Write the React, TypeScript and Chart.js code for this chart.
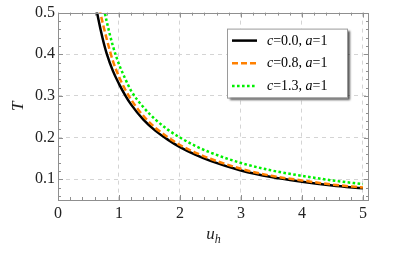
import React, { useEffect, useRef } from 'react';
import { Chart, registerables } from 'chart.js';

Chart.register(...registerables);

// ---- data ----
const uValues = [0.6, 0.65, 0.7, 0.75, 0.8, 0.9, 1.0, 1.1, 1.2, 1.4, 1.6, 1.8, 2.0, 2.25, 2.5, 3.0, 3.5, 4.0, 4.5, 5.0];
const tC00 = [0.53, 0.493, 0.458, 0.427, 0.401, 0.36, 0.329, 0.302, 0.279, 0.243, 0.216, 0.195, 0.177, 0.159, 0.144, 0.121, 0.105, 0.094, 0.085, 0.078];
const tC08 = [0.575, 0.535, 0.496, 0.465, 0.436, 0.384, 0.346, 0.316, 0.291, 0.252, 0.223, 0.201, 0.182, 0.164, 0.149, 0.125, 0.108, 0.097, 0.087, 0.08];
const tC13 = [0.64, 0.595, 0.553, 0.512, 0.478, 0.42, 0.376, 0.342, 0.312, 0.273, 0.243, 0.219, 0.2, 0.18, 0.164, 0.139, 0.121, 0.108, 0.097, 0.088];
const cLabels = ['0.0', '0.8', '1.3'];
const aLabels = ['1', '1', '1'];
const xTicks = [0, 1, 2, 3, 4, 5];
const yTicks = [0.1, 0.2, 0.3, 0.4, 0.5];
const xTitle = ['u', 'h'];
const yTitle = 'T';

const SERIF = '"Liberation Serif", "Times New Roman", serif';
const colors = ['#000000', '#ff8000', '#00f000'];
const dashes: number[][] = [[], [6, 3], [2.6, 2.4]];

const framePlugin = {
  id: 'mmaFrame',
  afterDatasetsDraw(chart: any) {
    const { ctx, chartArea: a, scales } = chart;
    const x = scales.x, y = scales.y;
    ctx.save();
    ctx.strokeStyle = '#8f8f8f';
    ctx.lineWidth = 1;
    ctx.setLineDash([]);
    ctx.beginPath();
    for (let i = 0; i <= 25; i++) {
      const v = i * 0.2;
      const px = Math.round(x.getPixelForValue(v)) + 0.5;
      const len = i % 5 === 0 ? 5 : 3;
      ctx.moveTo(px, a.bottom); ctx.lineTo(px, a.bottom - len);
      ctx.moveTo(px, a.top); ctx.lineTo(px, a.top + len);
    }
    for (let i = 3; i <= 25; i++) {
      const v = i * 0.02;
      const py = Math.round(y.getPixelForValue(v)) + 0.5;
      const len = i % 5 === 0 ? 5 : 3;
      ctx.moveTo(a.left, py); ctx.lineTo(a.left + len, py);
      ctx.moveTo(a.right, py); ctx.lineTo(a.right - len, py);
    }
    ctx.stroke();
    ctx.strokeRect(Math.round(a.left) + 0.5, Math.round(a.top) + 0.5, Math.round(a.right - a.left) - 1, Math.round(a.bottom - a.top));
    ctx.restore();
  },
  afterDraw(chart: any) {
    const { ctx, chartArea: a } = chart;
    ctx.save();
    ctx.fillStyle = '#222';
    ctx.textBaseline = 'alphabetic';
    ctx.font = `italic 17px ${SERIF}`;
    const uw = ctx.measureText(xTitle[0]).width;
    ctx.font = `italic 12px ${SERIF}`;
    const hw = ctx.measureText(xTitle[1]).width;
    const cx = (a.left + a.right) / 2 - (uw + hw) / 2;
    ctx.font = `italic 17px ${SERIF}`;
    ctx.fillText(xTitle[0], cx, a.bottom + 39);
    ctx.font = `italic 12px ${SERIF}`;
    ctx.fillText(xTitle[1], cx + uw, a.bottom + 43);

    ctx.save();
    ctx.translate(23, (a.top + a.bottom) / 2);
    ctx.rotate(-Math.PI / 2);
    ctx.font = `italic 17px ${SERIF}`;
    ctx.textAlign = 'center';
    ctx.fillText(yTitle, 0, 0);
    ctx.restore();

    // legend
    const bw = 120, bh = 69;
    const bx = a.right - 22 - bw, by = a.top + 16;
    ctx.save();
    ctx.shadowColor = 'rgba(0,0,0,0.65)';
    ctx.shadowOffsetX = 2.5;
    ctx.shadowOffsetY = 2.5;
    ctx.shadowBlur = 2;
    ctx.fillStyle = '#ffffff';
    ctx.fillRect(bx, by, bw, bh);
    ctx.restore();
    ctx.strokeStyle = '#9a9a9a';
    ctx.lineWidth = 1;
    ctx.strokeRect(bx + 0.5, by + 0.5, bw, bh);

    const rowH = 22.7;
    for (let i = 0; i < cLabels.length; i++) {
      const ds = chart.data.datasets.find((d: any) => d.seriesIndex === i);
      const ry = by + 12 + i * rowH;
      ctx.save();
      ctx.strokeStyle = ds.borderColor;
      ctx.lineWidth = 2.5;
      ctx.setLineDash(ds.borderDash || []);
      ctx.beginPath();
      ctx.moveTo(bx + 5, ry);
      ctx.lineTo(bx + 30, ry);
      ctx.stroke();
      ctx.restore();
      const parts = [
        { t: 'c', it: true },
        { t: '=' + cLabels[i] + ', ', it: false },
        { t: 'a', it: true },
        { t: '=' + aLabels[i], it: false },
      ];
      let tx = bx + 40;
      ctx.fillStyle = '#000';
      ctx.textBaseline = 'middle';
      for (const p of parts) {
        ctx.font = `${p.it ? 'italic ' : ''}14px ${SERIF}`;
        ctx.fillText(p.t, tx, ry + 0.5);
        tx += ctx.measureText(p.t).width;
      }
    }
    ctx.restore();
  },
};

export default function App() {
  const ref = useRef<HTMLCanvasElement | null>(null);
  useEffect(() => {
    document.body.style.margin = '0';
    const canvas = ref.current;
    if (!canvas) return;
    const series = [tC00, tC08, tC13];
    const chart = new Chart(canvas, {
      type: 'line',
      data: {
        datasets: series.map((s, i) => ({
          seriesIndex: i,
          label: `c=${cLabels[i]}, a=${aLabels[i]}`,
          data: uValues.map((u, j) => ({ x: u, y: s[j] })),
          borderColor: colors[i],
          backgroundColor: colors[i],
          borderWidth: 2.5,
          borderDash: dashes[i],
          pointRadius: 0,
          cubicInterpolationMode: 'monotone' as const,
          fill: false,
        } as any)).reverse(),
      },
      options: {
        responsive: false,
        animation: false,
        layout: { padding: { left: 0, right: 38, top: 8, bottom: 0 } },
        plugins: { legend: { display: false }, tooltip: { enabled: false } },
        scales: {
          x: {
            type: 'linear',
            min: 0,
            max: 5.1,
            afterBuildTicks: (s: any) => { s.ticks = xTicks.map((v) => ({ value: v })); },
            afterFit: (s: any) => { s.height = 54; },
            grid: {
              drawTicks: false,
              color: (c: any) => (c.tick && c.tick.value > 0 ? '#d4d4d4' : 'rgba(0,0,0,0)'),
              lineWidth: 1,
            },
            border: { display: false, dash: [4, 4] },
            ticks: {
              padding: 4,
              color: '#222',
              font: { family: SERIF, size: 16 },
              maxRotation: 0,
              callback: (v: any) => String(v),
            },
          },
          y: {
            type: 'linear',
            min: 0.05,
            max: 0.5,
            afterBuildTicks: (s: any) => { s.ticks = yTicks.map((v) => ({ value: v })); },
            afterFit: (s: any) => { s.width = 58; },
            grid: {
              drawTicks: false,
              color: (c: any) => (c.tick && c.tick.value < 0.5 ? '#d4d4d4' : 'rgba(0,0,0,0)'),
              lineWidth: 1,
            },
            border: { display: false, dash: [4, 4] },
            ticks: {
              padding: 3,
              color: '#222',
              font: { family: SERIF, size: 16 },
              callback: (v: any) => Number(v).toFixed(1),
            },
          },
        },
      },
      plugins: [framePlugin],
    });
    return () => chart.destroy();
  }, []);
  return (
    <div style={{ width: 407, height: 254 }}>
      <canvas ref={ref} width={407} height={254} />
    </div>
  );
}
